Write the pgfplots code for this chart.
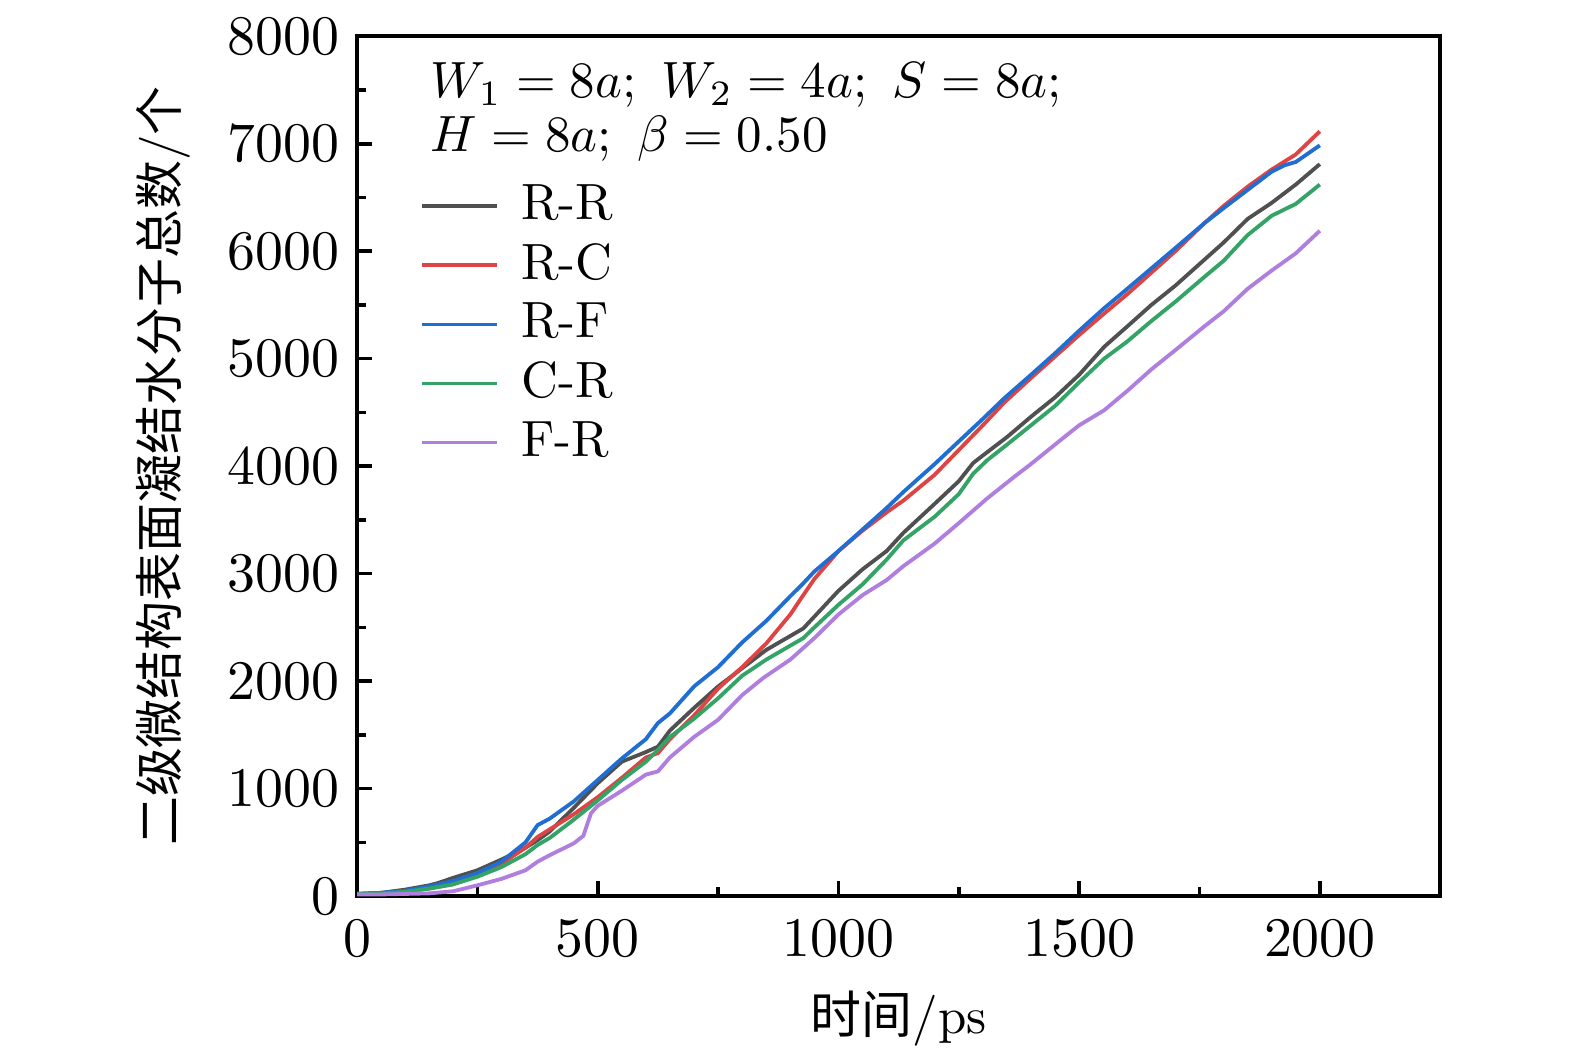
\documentclass[border=0pt]{standalone}
\usepackage{fontspec}
\usepackage{pgfplots}
\pgfplotsset{compat=1.18}
\newfontfamily\cjk{Noto Sans CJK SC}
\definecolor{cRR}{RGB}{80,80,80}
\definecolor{cRC}{RGB}{222,68,68}
\definecolor{cRF}{RGB}{32,110,210}
\definecolor{cCR}{RGB}{52,164,102}
\definecolor{cFR}{RGB}{176,126,222}
\begin{document}
\begin{tikzpicture}
\path[use as bounding box] (-70.05pt,-30.8pt) rectangle (238.95pt,175.8pt);
\begin{axis}[
  at={(0pt,0pt)}, anchor=south west,
  scale only axis, width=212.5pt, height=168.7pt,
  xmin=0, xmax=2250, ymin=0, ymax=8000,
  xtick={0,500,1000,1500,2000},
  ytick={0,1000,2000,3000,4000,5000,6000,7000,8000},
  minor x tick num=1, minor y tick num=1,
  xtick pos=bottom, ytick pos=left,
  tick align=inside,
  major tick length=3pt, minor tick length=1.7pt,
  axis line style={line width=0.8pt},
  every tick/.style={black, line width=0.7pt},
  scaled ticks=false,
  /pgf/number format/1000 sep={},
  tick label style={font=\fontsize{11}{13}\selectfont},
  xticklabel style={yshift=-1.2pt},
  xlabel={{\cjk 时间}/ps},
  ylabel={{\fontsize{9.6}{11}\selectfont\cjk 二级微结构表面凝结水分子总数}/{\fontsize{9.6}{11}\selectfont\cjk 个}},
  xlabel style={at={(axis description cs:0.5,0)}, anchor=center, yshift=-24pt},
  ylabel style={at={(axis description cs:0,0.5)}, anchor=center, xshift=0pt, yshift=38pt},
  legend cell align=left,
  legend style={draw=none, fill=none, at={(axis description cs:0.0573,0.84)}, anchor=north west, row sep=-0.85pt, inner sep=0pt,
    /tikz/every odd column/.style={column sep=2.4pt}},
  legend image code/.code={\draw[#1] (0pt,0pt) -- (14.7pt,0pt);},
  every axis plot/.append style={line width=0.75pt},
]
\addplot[cRR] coordinates {(0,20)(50,30)(100,60)(150,100)(167,120)(200,170)(250,240)(300,340)(350,450)(375,520)(400,600)(450,820)(500,1050)(550,1250)(600,1340)(625,1390)(650,1540)(700,1750)(750,1950)(800,2120)(850,2290)(900,2420)(927,2490)(950,2600)(1000,2840)(1050,3040)(1100,3210)(1135,3380)(1200,3650)(1250,3860)(1280,4030)(1309,4130)(1350,4270)(1400,4460)(1450,4640)(1500,4850)(1552,5110)(1600,5300)(1650,5500)(1700,5680)(1760,5920)(1800,6080)(1850,6300)(1900,6450)(1950,6620)(2000,6810)};
\addlegendentry{R-R}
\addplot[cRC] coordinates {(0,20)(50,25)(100,40)(150,70)(200,110)(250,195)(300,300)(350,450)(375,550)(400,620)(450,760)(500,920)(550,1100)(600,1290)(625,1330)(650,1460)(700,1680)(750,1930)(800,2130)(850,2350)(900,2620)(927,2800)(950,2950)(1000,3210)(1050,3400)(1100,3570)(1135,3680)(1200,3920)(1250,4150)(1300,4380)(1344,4590)(1400,4820)(1450,5020)(1500,5220)(1552,5420)(1600,5600)(1650,5800)(1700,6000)(1760,6260)(1800,6420)(1850,6600)(1900,6760)(1950,6900)(2000,7115)};
\addlegendentry{R-C}
\addplot[cRF] coordinates {(0,20)(50,30)(100,50)(150,90)(200,140)(250,214)(300,320)(350,500)(375,660)(400,720)(450,880)(500,1080)(550,1280)(600,1460)(625,1610)(650,1700)(700,1950)(750,2130)(800,2360)(850,2560)(900,2790)(927,2910)(950,3020)(1000,3210)(1050,3410)(1100,3610)(1135,3760)(1200,4020)(1250,4230)(1300,4440)(1344,4630)(1400,4850)(1450,5050)(1500,5260)(1552,5470)(1600,5650)(1650,5840)(1700,6030)(1760,6260)(1800,6400)(1850,6570)(1900,6740)(1927,6800)(1950,6830)(2000,6985)};
\addlegendentry{R-F}
\addplot[cCR] coordinates {(0,20)(50,25)(100,40)(150,70)(200,110)(250,180)(300,270)(350,390)(375,475)(400,540)(450,710)(500,890)(550,1080)(600,1250)(625,1360)(650,1480)(700,1650)(750,1840)(800,2050)(850,2200)(900,2330)(927,2400)(950,2500)(1000,2710)(1050,2900)(1100,3130)(1135,3310)(1200,3530)(1250,3740)(1280,3930)(1309,4055)(1350,4200)(1400,4380)(1450,4560)(1500,4780)(1552,5000)(1600,5160)(1650,5350)(1700,5530)(1760,5760)(1800,5910)(1850,6150)(1900,6330)(1950,6440)(2000,6620)};
\addlegendentry{C-R}
\addplot[cFR] coordinates {(0,15)(50,15)(100,20)(150,25)(200,45)(250,100)(300,160)(350,240)(375,320)(400,380)(450,490)(470,560)(486,770)(500,840)(550,980)(600,1130)(625,1160)(650,1290)(700,1480)(750,1640)(800,1870)(844,2030)(900,2200)(950,2400)(1000,2620)(1050,2800)(1100,2940)(1135,3070)(1200,3280)(1250,3470)(1309,3700)(1365,3900)(1400,4020)(1469,4270)(1500,4380)(1552,4520)(1600,4700)(1650,4900)(1700,5080)(1760,5300)(1800,5440)(1850,5650)(1900,5820)(1950,5980)(2000,6190)};
\addlegendentry{F-R}
\node[anchor=north west, align=left, inner sep=0pt, font=\fontsize{10}{10.6}\selectfont] at (axis description cs:0.0673,0.97) {$W_1=8a;\ W_2=4a;\ S=8a;$\\$H=8a;\ \beta=0.50$};
\end{axis}
\end{tikzpicture}
\end{document}
